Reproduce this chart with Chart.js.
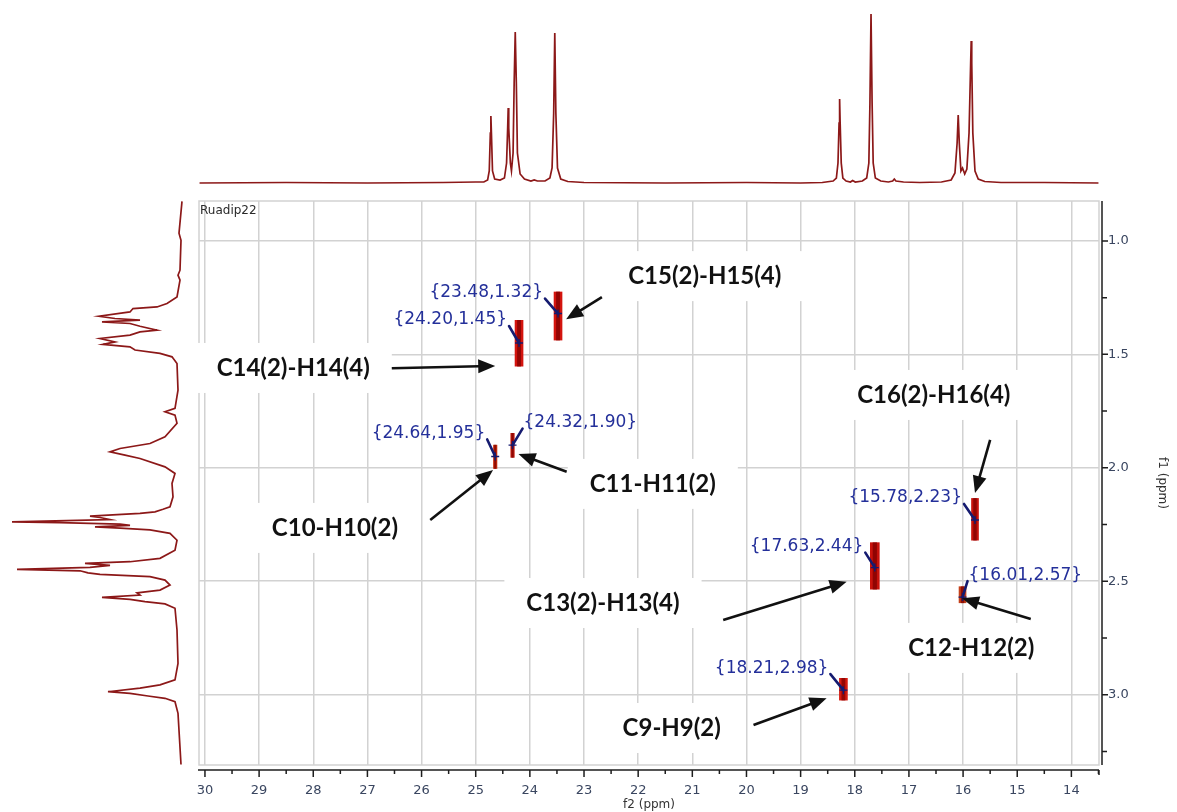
<!DOCTYPE html>
<html>
<head>
<meta charset="utf-8">
<title>HSQC Ruadip22</title>
<script src="https://cdn.jsdelivr.net/npm/chart.js@4.4.1/dist/chart.umd.min.js"></script>
<style>
  html, body { margin: 0; padding: 0; background: #fff; }
  #wrap { position: relative; width: 1177px; height: 812px; overflow: hidden; }
  canvas { position: absolute; }
  #top { left: 0; top: 0; }
  #side { left: 0; top: 201px; }
  #main { left: 0; top: 0; z-index: 2; }
</style>
</head>
<body>
<div id="wrap">
  <canvas id="top" width="1177" height="200"></canvas>
  <canvas id="side" width="199" height="564"></canvas>
  <canvas id="main" width="1177" height="812"></canvas>
</div>
<script>
// ---- axis ranges (ppm) ----
const f2Axis = [30.11, 13.49];   // 13C, left -> right
const f1Axis = [0.824, 3.31];    // 1H, top -> bottom

// ---- 13C projection (f2): chemical shift / intensity ----
const f2TracePpm = [30.10, 28.50, 27.00, 25.60, 25.00, 24.85, 24.78, 24.75, 24.73, 24.72, 24.71, 24.69, 24.65, 24.55,
  24.47, 24.43, 24.41, 24.40, 24.39, 24.36, 24.34, 24.31, 24.29, 24.27, 24.25, 24.23, 24.18, 24.10, 23.98, 23.92,
  23.86, 23.72, 23.63, 23.59, 23.56, 23.54, 23.52, 23.49, 23.43, 23.30, 23.00, 21.50, 20.00, 19.00, 18.60, 18.40,
  18.34, 18.31, 18.29, 18.28, 18.27, 18.25, 18.22, 18.16, 18.08, 18.04, 17.99, 17.86, 17.78, 17.74, 17.72, 17.70,
  17.68, 17.66, 17.62, 17.52, 17.38, 17.30, 17.27, 17.24, 17.10, 16.80, 16.40, 16.22, 16.15, 16.11, 16.09, 16.07,
  16.04, 16.01, 15.97, 15.93, 15.89, 15.86, 15.85, 15.84, 15.82, 15.78, 15.72, 15.60, 15.30, 14.50, 13.50];
const f2TraceInt = [0, 0.5, 0, 0.5, 1, 1, 3, 12, 50, 67, 50, 12, 4, 3,
  5, 20, 55, 75, 55, 20, 12, 30, 100, 151, 100, 30, 9, 4, 2, 3,
  2, 2, 5, 15, 70, 150, 70, 15, 4, 1.5, 0.5, 0, 0.5, 0, 0.5, 2,
  5, 20, 60, 84, 60, 20, 5, 2, 1, 2.5, 1, 2, 5, 20, 80, 169,
  80, 20, 5, 2, 1, 2, 4, 2, 1, 0.5, 1, 3, 10, 40, 68, 40,
  12, 15, 9, 14, 50, 120, 142, 120, 50, 12, 4, 1.5, 0.5, 0.5, 0];

// ---- 1H projection (f1): chemical shift / intensity ----
const f1TracePpm = [0.826, 0.966, 0.997, 1.129, 1.151, 1.173, 1.247, 1.276, 1.291, 1.298, 1.313, 1.332, 1.342, 1.349,
  1.357, 1.364, 1.376, 1.393, 1.401, 1.415, 1.430, 1.445, 1.456, 1.467, 1.481, 1.496, 1.511, 1.540, 1.658, 1.738,
  1.753, 1.768, 1.804, 1.863, 1.893, 1.915, 1.930, 1.944, 1.959, 1.996, 2.025, 2.069, 2.128, 2.172, 2.183, 2.194,
  2.201, 2.213, 2.219, 2.228, 2.238, 2.242, 2.248, 2.254, 2.260, 2.266, 2.274, 2.289, 2.319, 2.363, 2.399, 2.414,
  2.421, 2.430, 2.439, 2.448, 2.454, 2.463, 2.470, 2.480, 2.495, 2.517, 2.539, 2.551, 2.561, 2.571, 2.580, 2.590,
  2.600, 2.619, 2.715, 2.862, 2.935, 2.957, 2.971, 2.987, 2.994, 3.006, 3.016, 3.031, 3.082, 3.308];
const f1TraceInt = [0, 3, 1, 2, 4, 2, 5, 15, 25, 49, 52, 83, 67, 42,
  80, 52, 42, 25, 42, 52, 82, 67, 79, 52, 47, 22, 10, 5, 4, 7,
  17, 7, 5, 17, 32, 62, 72, 57, 42, 17, 7, 10, 9, 12, 19, 27,
  42, 92, 82, 72, 170, 122, 62, 52, 87, 62, 32, 12, 5, 7, 22, 52,
  97, 72, 92, 165, 102, 94, 82, 32, 17, 12, 22, 45, 42, 80, 52, 37,
  17, 7, 5, 4, 7, 22, 42, 74, 52, 34, 17, 7, 4, 1];

// ---- cross peaks: picked position and contour extent along f1 ----
const peakF2 = [23.48, 24.20, 24.64, 24.32, 15.78, 17.63, 16.01, 18.21];
const peakF1 = [1.32, 1.45, 1.95, 1.90, 2.23, 2.44, 2.57, 2.98];
const peakF1Low = [1.225, 1.350, 1.900, 1.848, 2.135, 2.330, 2.524, 2.928];
const peakF1High = [1.437, 1.552, 2.003, 1.954, 2.319, 2.535, 2.595, 3.024];
const assignLabels = ['C15(2)-H15(4)', 'C14(2)-H14(4)', 'C10-H10(2)', 'C11-H11(2)',
  'C16(2)-H16(4)', 'C13(2)-H13(4)', 'C12-H12(2)', 'C9-H9(2)'];

// ---- drawing layout / style (kept apart from the data) ----
const peakBarPx = [8, 8, 3.5, 3.5, 7, 9, 7, 8];
const peakFill = ['#d3140e', '#d3140e', '#c8300e', '#c01a0e', '#c8120c', '#c8120c', '#c4401a', '#d61a10'];
// shift tag offset from its peak in px: [dx, dy, side of text]
const shiftTagOffset = [[-15, -21, 'right'], [-12, -23, 'right'], [-10, -23, 'right'], [11, -22.5, 'left'],
  [-13, -22, 'right'], [-11.5, -21, 'right'], [6, -22, 'left'], [-15, -22, 'right']];
// assignment callouts in ppm: [label f2, label f1, tail f2, tail f1, tip f2, tip f1]
const calloutLayout = [
  [20.77, 1.155, 22.67, 1.248, 23.33, 1.345],
  [28.37, 1.560, 26.55, 1.561, 24.64, 1.551],
  [27.60, 2.265, 25.84, 2.230, 24.68, 2.010],
  [21.73, 2.071, 23.32, 2.017, 24.21, 1.939],
  [16.54, 1.679, 15.50, 1.877, 15.78, 2.111],
  [22.65, 2.596, 20.43, 2.671, 18.15, 2.502],
  [15.85, 2.794, 14.75, 2.666, 16.02, 2.575],
  [21.38, 3.147, 19.87, 3.134, 18.52, 3.016]
];

const traceColor = '#8c1818';
const gridGray = '#d2d2d2';
const tickText = '#3a4660';
const tagBlue = '#24309a';
const leaderBlue = '#151b70';

Chart.defaults.font.family = 'DejaVu Sans';
const isMult = (v, step) => Math.abs(v / step - Math.round(v / step)) < 1e-6;
const hidden = { display: false };

// ---- top projection ----
new Chart(document.getElementById('top'), {
  type: 'line',
  data: {
    datasets: [{
      data: f2TracePpm.map((p, i) => ({ x: p, y: f2TraceInt[i] })),
      borderColor: traceColor, borderWidth: 1.7, pointRadius: 0, tension: 0, fill: false
    }]
  },
  options: {
    responsive: false, animation: false, events: [],
    layout: { padding: { left: 199, right: 78, top: 0, bottom: 0 } },
    plugins: { legend: hidden, tooltip: { enabled: false } },
    scales: {
      x: { type: 'linear', reverse: true, min: f2Axis[1], max: f2Axis[0], display: false },
      y: { type: 'linear', min: -17, max: 183, display: false }
    }
  }
});

// ---- side projection ----
new Chart(document.getElementById('side'), {
  type: 'line',
  data: {
    datasets: [{
      data: f1TracePpm.map((p, i) => ({ x: f1TraceInt[i], y: p })),
      borderColor: traceColor, borderWidth: 1.7, pointRadius: 0, tension: 0, fill: false
    }]
  },
  options: {
    responsive: false, animation: false, events: [],
    layout: { padding: 0 },
    plugins: { legend: hidden, tooltip: { enabled: false } },
    scales: {
      x: { type: 'linear', reverse: true, min: -17, max: 182, display: false },
      y: { type: 'linear', reverse: true, min: f1Axis[0], max: f1Axis[1], display: false }
    }
  }
});

// ---- 2D map: cross peaks ----
const peakDatasets = [];
peakF2.forEach((x, i) => {
  const range = { x: x, y: [peakF1Low[i], peakF1High[i]] };
  peakDatasets.push({
    data: [range], backgroundColor: peakFill[i], barThickness: peakBarPx[i],
    maxBarThickness: peakBarPx[i], grouped: false, order: 2
  });
  peakDatasets.push({
    data: [range], backgroundColor: 'rgba(125,0,0,0.75)', barThickness: peakBarPx[i] * 0.4,
    maxBarThickness: peakBarPx[i] * 0.4, grouped: false, order: 1
  });
});

function drawArrow(ctx, x0, y0, x1, y1) {
  const ang = Math.atan2(y1 - y0, x1 - x0), L = 17, W = 7;
  const bx = x1 - L * Math.cos(ang), by = y1 - L * Math.sin(ang);
  ctx.beginPath(); ctx.moveTo(x0, y0); ctx.lineTo(bx + Math.cos(ang), by + Math.sin(ang)); ctx.stroke();
  ctx.beginPath();
  ctx.moveTo(x1, y1);
  ctx.lineTo(bx + W * Math.sin(ang), by - W * Math.cos(ang));
  ctx.lineTo(bx - W * Math.sin(ang), by + W * Math.cos(ang));
  ctx.closePath(); ctx.fill();
}

const calloutFont = 'bold 24px Lato';

const mapDecor = {
  id: 'mapDecor',
  beforeDatasetsDraw(chart) {
    const { ctx, chartArea: a, scales: { x, y } } = chart;
    ctx.save();
    ctx.strokeStyle = gridGray; ctx.lineWidth = 1.5;
    ctx.strokeRect(a.left, a.top, a.right - a.left, a.bottom - a.top);
    // white panels behind the assignment labels
    ctx.font = calloutFont;
    ctx.fillStyle = '#ffffff';
    calloutLayout.forEach((c, i) => {
      const cx = x.getPixelForValue(c[0]), cy = y.getPixelForValue(c[1]);
      const w = ctx.measureText(assignLabels[i]).width;
      ctx.fillRect(cx - w / 2 - 22, cy - 25, w + 44, 50);
    });
    ctx.restore();
  },
  afterDatasetsDraw(chart) {
    const { ctx, chartArea: a, scales: { x, y } } = chart;
    ctx.save();
    // spectrum name
    ctx.font = '12px DejaVu Sans'; ctx.fillStyle = '#2a2a2a';
    ctx.textAlign = 'left'; ctx.textBaseline = 'middle';
    ctx.fillText('Ruadip22', a.left + 1, a.top + 10);

    // picked peak tags
    ctx.font = '17px DejaVu Sans';
    peakF2.forEach((f2, i) => {
      const px = x.getPixelForValue(f2), py = y.getPixelForValue(peakF1[i]);
      const [dx, dy, side] = shiftTagOffset[i];
      const tx = px + dx, ty = py + dy;
      const txt = '{' + f2.toFixed(2) + ',' + peakF1[i].toFixed(2) + '}';
      ctx.fillStyle = tagBlue;
      ctx.textAlign = side === 'right' ? 'right' : 'left';
      ctx.textBaseline = 'middle';
      ctx.fillText(txt, tx, ty);
      const sx = side === 'right' ? tx + 2 : tx - 1;
      ctx.strokeStyle = leaderBlue; ctx.lineWidth = 2.6; ctx.lineCap = 'round';
      ctx.beginPath(); ctx.moveTo(sx, ty + 6); ctx.lineTo(px, py); ctx.stroke();
      ctx.lineWidth = 1.4; ctx.lineCap = 'butt';
      ctx.beginPath();
      ctx.moveTo(px - 4, py); ctx.lineTo(px + 4, py);
      ctx.moveTo(px, py - 4); ctx.lineTo(px, py + 4);
      ctx.stroke();
    });

    // assignment labels and arrows
    ctx.font = calloutFont; ctx.fillStyle = '#111'; ctx.strokeStyle = '#111';
    ctx.textAlign = 'center'; ctx.textBaseline = 'middle';
    calloutLayout.forEach((c, i) => {
      ctx.fillText(assignLabels[i], x.getPixelForValue(c[0]), y.getPixelForValue(c[1]));
      ctx.lineWidth = 2.6;
      drawArrow(ctx, x.getPixelForValue(c[2]), y.getPixelForValue(c[3]),
        x.getPixelForValue(c[4]), y.getPixelForValue(c[5]));
    });
    ctx.restore();
  },
  afterDraw(chart) {
    const { ctx, chartArea: a, scales: { x, y } } = chart;
    ctx.save();
    ctx.strokeStyle = '#1e1e1e'; ctx.lineWidth = 1.5;
    // f2 axis, set slightly below the map
    const y0 = a.bottom + 5;
    ctx.beginPath(); ctx.moveTo(a.left - 1, y0); ctx.lineTo(a.right, y0);
    ctx.moveTo(a.right, y0); ctx.lineTo(a.right, y0 + 5);
    x.ticks.forEach(t => {
      const px = x.getPixelForValue(t.value);
      ctx.moveTo(px, y0); ctx.lineTo(px, y0 + (isMult(t.value, 1) ? 7 : 4));
    });
    ctx.stroke();
    // f1 axis on the right
    const x0 = a.right + 3;
    ctx.beginPath(); ctx.moveTo(x0, a.top); ctx.lineTo(x0, a.bottom);
    y.ticks.forEach(t => {
      const py = y.getPixelForValue(t.value);
      ctx.moveTo(x0, py); ctx.lineTo(x0 + (isMult(t.value, 0.5) ? 6 : 5), py);
    });
    ctx.stroke();
    ctx.restore();
  }
};

new Chart(document.getElementById('main'), {
  type: 'bar',
  data: { datasets: peakDatasets },
  options: {
    responsive: false, animation: false, events: [],
    layout: { padding: { left: 199, top: 201, right: 0, bottom: 0 } },
    plugins: { legend: hidden, tooltip: { enabled: false } },
    scales: {
      x: {
        type: 'linear', reverse: true, min: f2Axis[1], max: f2Axis[0], offset: false,
        afterFit: s => { s.height = 47; },
        border: { display: false },
        grid: {
          offset: false, lineWidth: 1.5, drawTicks: true, tickLength: 14, tickColor: 'rgba(0,0,0,0)',
          color: c => (c.tick && isMult(c.tick.value, 1)) ? gridGray : 'rgba(0,0,0,0)'
        },
        ticks: {
          stepSize: 0.5, autoSkip: false, maxRotation: 0, includeBounds: false, padding: 4,
          color: tickText, font: { size: 13 },
          callback: v => isMult(v, 1) ? String(Math.round(v)) : ''
        },
        title: { display: true, text: 'f2 (ppm)', color: '#333', font: { size: 12 }, padding: { top: 0, bottom: 0 } }
      },
      y: {
        type: 'linear', position: 'right', reverse: true, min: f1Axis[0], max: f1Axis[1], offset: false,
        afterFit: s => { s.width = 78; },
        border: { display: false },
        grid: {
          lineWidth: 1.5, drawTicks: true, tickLength: 6, tickColor: 'rgba(0,0,0,0)',
          color: c => (c.tick && isMult(c.tick.value, 0.5)) ? gridGray : 'rgba(0,0,0,0)'
        },
        ticks: {
          stepSize: 0.25, autoSkip: false, includeBounds: false, padding: 3,
          color: tickText, font: { size: 13 },
          callback: v => isMult(v, 0.5) ? v.toFixed(1) : ''
        },
        title: { display: true, text: 'f1 (ppm)', color: '#333', font: { size: 12 }, padding: { top: 8, bottom: 0 } }
      }
    }
  },
  plugins: [mapDecor]
});
</script>
</body>
</html>
